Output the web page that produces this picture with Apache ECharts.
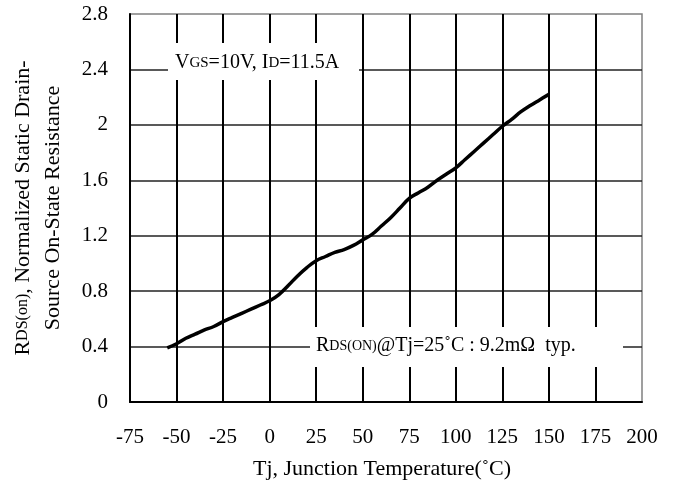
<!DOCTYPE html>
<html>
<head>
<meta charset="utf-8">
<script src="https://cdn.jsdelivr.net/npm/echarts@6/dist/echarts.min.js"></script>
<style>
html,body{margin:0;background:#fff}
#chart{width:674px;height:483px}
</style>
</head>
<body>
<div id="chart"></div>
<script>
// Tj (°C) vs normalized RDS(on)
var temps = [-55, -50, -45, -40, -35, -30, -25, -20, -15, -10, -5, 0, 5, 10, 15, 20, 25, 30, 35, 40, 45,
  50, 55, 60, 65, 70, 75, 80, 85, 90, 95, 100, 105, 110, 115, 120, 125, 130, 135, 140, 145, 150];
var rdsNorm = [0.39, 0.42, 0.46, 0.49, 0.52, 0.545, 0.58, 0.61, 0.64, 0.67, 0.70, 0.73, 0.775, 0.84, 0.91, 0.97, 1.02,
  1.05, 1.08, 1.10, 1.13, 1.17, 1.21, 1.27, 1.33, 1.40, 1.47, 1.51, 1.55, 1.60, 1.645, 1.69, 1.75, 1.81, 1.87,
  1.93, 1.99, 2.04, 2.095, 2.14, 2.18, 2.22];
var xMin = -75, xMax = 200, xStep = 25;
var yMin = 0, yMax = 2.8, yStep = 0.4;

var font = 'Liberation Serif';
var chart = echarts.init(document.getElementById('chart'));

var points = temps.map(function (t, i) { return [t, rdsNorm[i]]; });

chart.setOption({
  backgroundColor: '#fff',
  animation: false,
  grid: {
    left: 130, top: 14, right: 32, bottom: 81,
    outerBoundsMode: 'none', containLabel: false,
    show: true, borderColor: '#808080', borderWidth: 1.5, backgroundColor: '#fff'
  },
  xAxis: {
    type: 'value', min: xMin, max: xMax, interval: xStep,
    name: 'Tj, Junction Temperature(˚C)',
    nameLocation: 'middle', nameGap: 56,
    nameTextStyle: { fontFamily: font, fontSize: 22, color: '#000', padding: [0, 8, 0, 0] },
    axisLine: { show: true, onZero: false, lineStyle: { color: '#000', width: 2 } },
    axisTick: { show: false },
    axisLabel: { fontFamily: font, fontSize: 21, color: '#000', margin: 25 },
    splitLine: { show: true, showMinLine: false, showMaxLine: false, lineStyle: { color: '#000', width: 2 } }
  },
  yAxis: {
    type: 'value', min: yMin, max: yMax, interval: yStep,
    name: '{a|R}{s|DS(on)}{a|, Normalized Static Drain-}\n{a|Source On-State Resistance}',
    nameLocation: 'middle', nameGap: 62, nameRotate: 90,
    nameTextStyle: {
      rich: {
        a: { fontFamily: font, fontSize: 22, color: '#000', lineHeight: 30 },
        s: { fontFamily: font, fontSize: 16, color: '#000', lineHeight: 30 }
      }
    },
    axisLine: { show: true, onZero: false, lineStyle: { color: '#000', width: 2 } },
    axisTick: { show: false },
    axisLabel: { fontFamily: font, fontSize: 21, color: '#000', margin: 22 },
    splitLine: { show: true, showMinLine: false, showMaxLine: false, lineStyle: { color: '#222', width: 1.5 } }
  },
  series: [{
    type: 'line',
    data: points,
    smooth: 0.4,
    symbol: 'none',
    lineStyle: { color: '#000', width: 3.5 },
    z: 3
  }],
  graphic: [
    { type: 'rect', z: 50, shape: { x: 168, y: 43, width: 191, height: 37 }, style: { fill: '#fff' } },
    {
      type: 'text', z: 51, left: 175, top: 53,
      style: {
        text: '{a|V}{s|GS}{a|=10V, I}{s|D}{a|=11.5A}',
        rich: {
          a: { fontFamily: font, fontSize: 20, fill: '#000' },
          s: { fontFamily: font, fontSize: 15, fill: '#000' }
        }
      }
    },
    { type: 'rect', z: 50, shape: { x: 310, y: 327, width: 313, height: 40 }, style: { fill: '#fff' } },
    {
      type: 'text', z: 51, left: 316, top: 336,
      style: {
        text: '{a|R}{s|DS(ON)}{a|@Tj=25˚C : 9.2mΩ  typ.}',
        rich: {
          a: { fontFamily: font, fontSize: 20, fill: '#000' },
          s: { fontFamily: font, fontSize: 14, fill: '#000' }
        }
      }
    }
  ]
});
</script>
</body>
</html>
